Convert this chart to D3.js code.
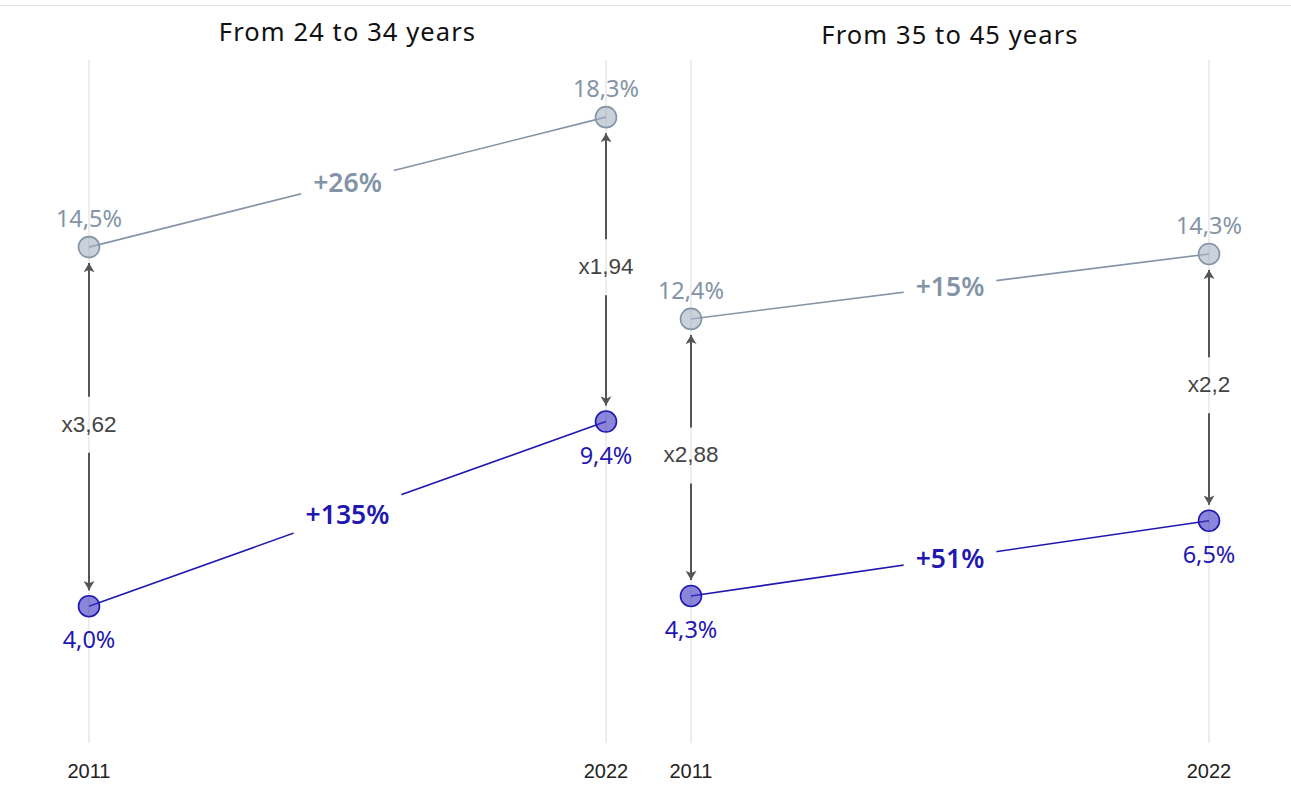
<!DOCTYPE html>
<html>
<head>
<meta charset="utf-8">
<script src="https://cdn.jsdelivr.net/npm/d3@7"></script>
<style>
  html, body { margin: 0; padding: 0; background: #fff; }
  svg { display: block; }
</style>
</head>
<body>
<svg id="chart" width="1291" height="807"></svg>
<script>
// Age-group panels and the two survey years
const panels = ["From 24 to 34 years", "From 35 to 45 years"];
const years = ["2011", "2022"];

// Share values (%) for each panel, per year
const upperSeries = [[14.5, 18.3], [12.4, 14.3]];
const lowerSeries = [[4.0, 9.4], [4.3, 6.5]];

// Display labels
const upperLabels = [["14,5%", "18,3%"], ["12,4%", "14,3%"]];
const lowerLabels = [["4,0%", "9,4%"], ["4,3%", "6,5%"]];
const upperChange = ["+26%", "+15%"];
const lowerChange = ["+135%", "+51%"];
const ratioLabels = [["x3,62", "x1,94"], ["x2,88", "x2,2"]];

const W = 1291, H = 807;
const svg = d3.select("#chart");

const grey = "#8494a6", greyFill = "rgba(165,180,193,0.6)";
const blue = "#1f18b0", blueFill = "rgba(62,54,192,0.6)";
const arrowCol = "#555";
const geoFont = "'Noto Sans', 'Open Sans', sans-serif";
const helv = "'Liberation Sans', Arial, sans-serif";

// top rule
svg.append("line").attr("x1", 0).attr("x2", W).attr("y1", 5.5).attr("y2", 5.5)
  .attr("stroke", "#e2e2e2").attr("stroke-width", 1);

const y = d3.scaleLinear().domain([0, 20]).range([743, 59]);

const panelRanges = [[89, 606], [691, 1209]];
const titleY = [41, 44];

svg.append("defs").append("marker")
  .attr("id", "arrow").attr("viewBox", "0 0 10 12")
  .attr("refX", 10).attr("refY", 6)
  .attr("markerWidth", 13).attr("markerHeight", 11)
  .attr("markerUnits", "userSpaceOnUse")
  .attr("orient", "auto")
  .append("path").attr("d", "M0,0 L10,6 L0,12 L2.5,6 z").attr("fill", arrowCol);

panels.forEach((title, p) => {
  const x = d3.scalePoint().domain(years).range(panelRanges[p]);
  const g = svg.append("g");

  // title
  g.append("text")
    .attr("x", (panelRanges[p][0] + panelRanges[p][1]) / 2)
    .attr("y", titleY[p])
    .attr("text-anchor", "middle")
    .attr("font-family", geoFont).attr("font-size", 25.5)
    .attr("letter-spacing", 1.1).attr("fill", "#111")
    .text(title);

  // vertical year guides
  g.selectAll(".guide").data(years).join("line")
    .attr("x1", d => x(d)).attr("x2", d => x(d))
    .attr("y1", y(20) + 1).attr("y2", y(0))
    .attr("stroke", "#e4e4e4").attr("stroke-width", 1.3);

  // year labels
  g.selectAll(".yr").data(years).join("text")
    .attr("x", d => x(d)).attr("y", 778)
    .attr("text-anchor", "middle")
    .attr("font-family", helv).attr("font-size", 20).attr("fill", "#222")
    .text(d => d);

  // ratio arrows between the two series for each year
  years.forEach((yr, i) => {
    const top = y(upperSeries[p][i]), bot = y(lowerSeries[p][i]);
    const mid = (top + bot) / 2 - 3;
    const xx = x(yr);
    g.append("line")
      .attr("x1", xx).attr("x2", xx)
      .attr("y1", mid - 27).attr("y2", top + 16)
      .attr("stroke", arrowCol).attr("stroke-width", 2)
      .attr("marker-end", "url(#arrow)");
    g.append("line")
      .attr("x1", xx).attr("x2", xx)
      .attr("y1", mid + 29).attr("y2", bot - 16)
      .attr("stroke", arrowCol).attr("stroke-width", 2)
      .attr("marker-end", "url(#arrow)");
    g.append("text")
      .attr("x", xx).attr("y", mid + 8)
      .attr("text-anchor", "middle")
      .attr("font-family", helv).attr("font-size", 22.5).attr("fill", "#444")
      .text(ratioLabels[p][i]);
  });

  const series = [
    { vals: upperSeries[p], labels: upperLabels[p], change: upperChange[p], stroke: grey, fill: greyFill, above: true },
    { vals: lowerSeries[p], labels: lowerLabels[p], change: lowerChange[p], stroke: blue, fill: blueFill, above: false }
  ];

  series.forEach(s => {
    const pts = years.map((yr, i) => [x(yr), y(s.vals[i])]);
    g.append("path")
      .attr("d", d3.line()(pts))
      .attr("stroke", s.stroke).attr("stroke-width", 1.6).attr("fill", "none");

    // change label on the connecting line, with a white knock-out
    const mx = (pts[0][0] + pts[1][0]) / 2, my = (pts[0][1] + pts[1][1]) / 2;
    const t = g.append("text")
      .attr("x", mx).attr("y", my + 10)
      .attr("text-anchor", "middle")
      .attr("font-family", geoFont).attr("font-size", 26.5).attr("font-weight", 600)
      .attr("fill", s.stroke)
      .text(s.change);
    const bb = t.node().getBBox();
    g.insert("rect", function () { return t.node(); })
      .attr("x", bb.x - 12).attr("y", bb.y - 2)
      .attr("width", bb.width + 24).attr("height", bb.height + 4)
      .attr("fill", "#fff");

    g.selectAll(null).data(pts).join("circle")
      .attr("cx", d => d[0]).attr("cy", d => d[1]).attr("r", 10.5)
      .attr("fill", s.fill).attr("stroke", s.stroke).attr("stroke-width", 1.6);

    g.selectAll(null).data(pts).join("text")
      .attr("x", d => d[0])
      .attr("y", d => s.above ? d[1] - 20 : d[1] + 42)
      .attr("text-anchor", "middle")
      .attr("font-family", geoFont).attr("font-size", 23.5)
      .attr("fill", s.stroke)
      .text((d, i) => s.labels[i]);
  });
});
</script>
</body>
</html>
